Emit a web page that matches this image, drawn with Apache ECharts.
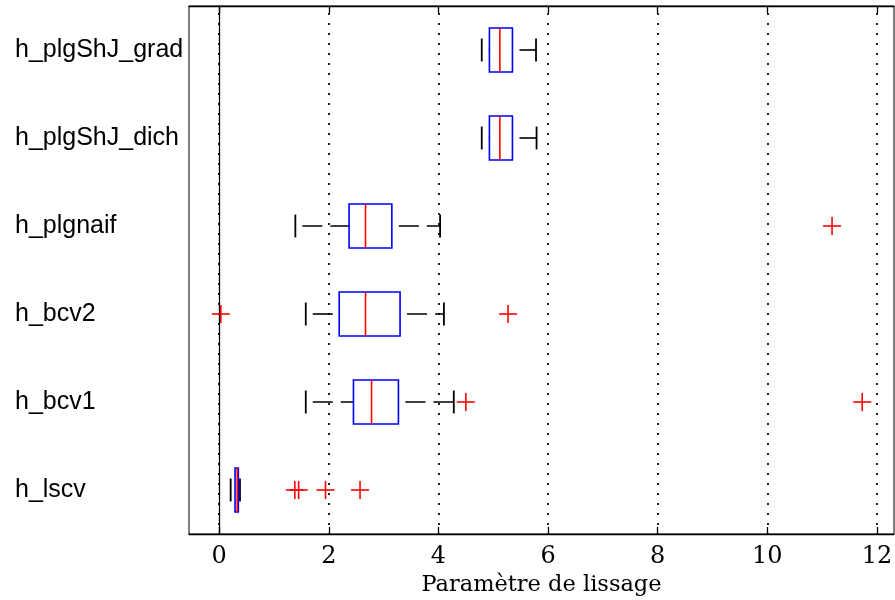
<!DOCTYPE html>
<html>
<head>
<meta charset="utf-8">
<script src="https://cdn.jsdelivr.net/npm/echarts@6/dist/echarts.min.js"></script>
<style>
html,body{margin:0;padding:0;background:#fff;}
#chart{width:895px;height:600px;}
</style>
</head>
<body>
<div id="chart"></div>
<script>
// Categories (top to bottom)
const categories = ['h_plgShJ_grad', 'h_plgShJ_dich', 'h_plgnaif', 'h_bcv2', 'h_bcv1', 'h_lscv'];
// Box statistics per category
const lowWhisker  = [4.79, 4.79, 1.39, 1.58, 1.58, 0.21];
const q1          = [4.93, 4.93, 2.37, 2.19, 2.45, 0.29];
const median      = [5.12, 5.12, 2.67, 2.67, 2.78, 0.33];
const q3          = [5.35, 5.35, 3.15, 3.30, 3.27, 0.35];
const highWhisker = [5.78, 5.79, 4.03, 4.10, 4.28, 0.38];
// Outliers: category index and value
const outlierCat = [2, 3, 3, 4, 4, 5, 5, 5, 5];
const outlierVal = [11.18, 0.03, 5.27, 4.50, 11.73, 1.38, 1.45, 1.94, 2.57];
// Axis
const xTicks = [0, 2, 4, 6, 8, 10, 12];
const xMin = -0.55, xMax = 12.31;
const xName = 'Paramètre de lissage';

const boxData = categories.map((c, i) => [i, lowWhisker[i], q1[i], median[i], q3[i], highWhisker[i]]);
const outData = outlierCat.map((c, i) => [c, outlierVal[i]]);

const chart = echarts.init(document.getElementById('chart'), null, {renderer: 'canvas'});

function renderBox(params, api) {
  const ci = api.value(0);
  const band = api.size([0, 1])[1];
  const boxH = band * 0.5;
  const capH = band * 0.26;
  const pLo = api.coord([api.value(1), ci]);
  const pQ1 = api.coord([api.value(2), ci]);
  const pMed = api.coord([api.value(3), ci]);
  const pQ3 = api.coord([api.value(4), ci]);
  const pHi = api.coord([api.value(5), ci]);
  const cy = pMed[1];
  const dashStyle = {stroke: '#000', lineWidth: 1.6, lineDash: [20, 8], lineDashOffset: 21};
  return {
    type: 'group',
    children: [
      {type: 'line', shape: {x1: pLo[0], y1: cy, x2: pQ1[0], y2: cy}, style: dashStyle},
      {type: 'line', shape: {x1: pQ3[0], y1: cy, x2: pHi[0], y2: cy}, style: dashStyle},
      {type: 'line', shape: {x1: pLo[0], y1: cy - capH / 2, x2: pLo[0], y2: cy + capH / 2}, style: {stroke: '#000', lineWidth: 1.8}},
      {type: 'line', shape: {x1: pHi[0], y1: cy - capH / 2, x2: pHi[0], y2: cy + capH / 2}, style: {stroke: '#000', lineWidth: 1.8}},
      {type: 'rect', shape: {x: pQ1[0], y: cy - boxH / 2, width: pQ3[0] - pQ1[0], height: boxH}, style: {fill: 'none', stroke: '#0000ff', lineWidth: 1.6}},
      {type: 'line', shape: {x1: pMed[0], y1: cy - boxH / 2, x2: pMed[0], y2: cy + boxH / 2}, style: {stroke: '#ff0000', lineWidth: 1.6}}
    ]
  };
}

function renderOutlier(params, api) {
  const p = api.coord([api.value(1), api.value(0)]);
  const h = 9;
  const st = {stroke: '#ff0000', lineWidth: 1.6};
  return {
    type: 'group',
    children: [
      {type: 'line', shape: {x1: p[0] - h, y1: p[1], x2: p[0] + h, y2: p[1]}, style: st},
      {type: 'line', shape: {x1: p[0], y1: p[1] - h, x2: p[0], y2: p[1] + h}, style: st}
    ]
  };
}

const option = {
  backgroundColor: '#fff',
  animation: false,
  grid: {left: 189, right: 1, top: 6, bottom: 66, outerBoundsMode: 'none', containLabel: false, show: true, borderColor: '#000', borderWidth: 1, backgroundColor: '#fff'},
  xAxis: [
    {
      type: 'value', min: xMin, max: xMax, splitNumber: 6, position: 'bottom',
      name: xName, nameLocation: 'middle', nameGap: 35,
      nameTextStyle: {fontFamily: 'DejaVu Serif', fontSize: 22.5, color: '#000'},
      axisLine: {show: true, lineStyle: {color: '#000', width: 1.3}},
      axisTick: {show: true, inside: true, length: 7, lineStyle: {color: '#000', width: 1.3}, customValues: xTicks},
      axisLabel: {color: '#000', fontFamily: 'DejaVu Serif', fontSize: 24, margin: 11, customValues: xTicks},
      splitLine: {show: true, lineStyle: {color: '#222', width: 2, type: [2, 8], dashOffset: 3}}
    },
    {
      type: 'value', min: xMin, max: xMax, splitNumber: 6, position: 'top',
      axisLine: {show: true, lineStyle: {color: '#000', width: 1.3}},
      axisTick: {show: true, inside: true, length: 7, lineStyle: {color: '#000', width: 1.3}, customValues: xTicks},
      axisLabel: {show: false},
      splitLine: {show: false}
    }
  ],
  yAxis: {
    type: 'category', data: categories, inverse: true,
    axisLine: {show: true, lineStyle: {color: '#000', width: 1.3}},
    axisTick: {show: false},
    axisLabel: {color: '#000', fontFamily: 'Liberation Sans', fontSize: 25, align: 'left', margin: 174},
    splitLine: {show: false}
  },
  series: [
    {
      type: 'custom', name: 'box', xAxisIndex: 0, renderItem: renderBox,
      encode: {x: [1, 2, 3, 4, 5], y: 0}, data: boxData, clip: false
    },
    {
      type: 'custom', name: 'outliers', xAxisIndex: 0, renderItem: renderOutlier,
      encode: {x: 1, y: 0}, data: outData, clip: false
    }
  ]
};
chart.setOption(option);
</script>
</body>
</html>
